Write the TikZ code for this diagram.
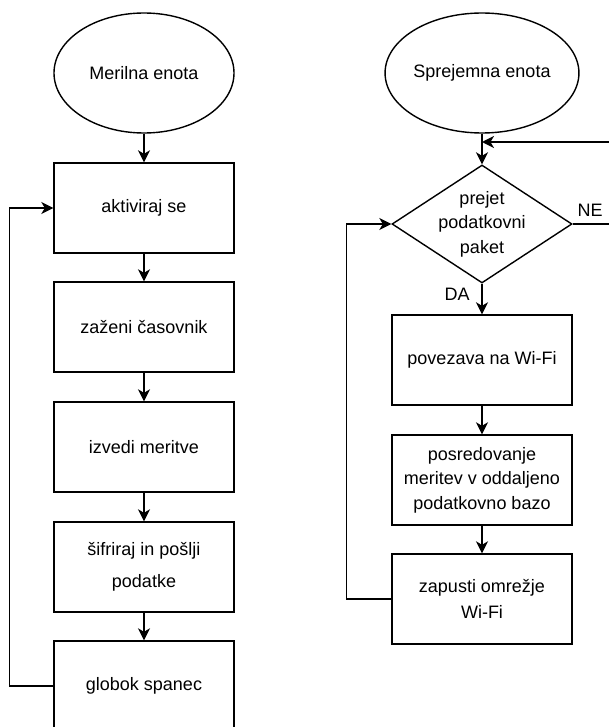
\documentclass[tikz,border=0pt]{standalone}
\usepackage{fontspec}
\setmainfont{Liberation Sans}
\usetikzlibrary{arrows.meta,shapes.geometric}
\begin{document}
\begin{tikzpicture}[x=1bp,y=-1bp,
  every node/.style={font=\fontsize{18bp}{24.5bp}\selectfont},
  line/.style={line width=1.4bp, draw=black},
  arr/.style={line, -{Stealth[length=12bp,width=12bp,inset=3.5bp]}},
  box/.style={line, draw, rectangle, minimum width=180bp, minimum height=90bp, inner sep=0pt, align=center},
  term/.style={line, draw, ellipse, minimum width=180bp, minimum height=120bp, inner sep=0pt},
  dec/.style={line, draw, diamond, minimum width=180bp, minimum height=118bp, inner sep=0pt},
  lbl/.style={inner sep=0pt}
]
\useasboundingbox (0,0) rectangle (609,727);
% left column
\node[term] (e1) at (144,73) {Merilna enota};
\node[box] (b1) at (144,208) {aktiviraj se};
\node[box] (b2) at (144,327) {zaženi časovnik};
\node[box] (b3) at (144,447) {izvedi meritve};
\node[box] (b4) at (144,567) {šifriraj in pošlji\\[8bp]podatke};
\node[box] (b5) at (144,686) {globok spanec};
\draw[arr] (e1) -- (b1);
\draw[arr] (b1) -- (b2);
\draw[arr] (b2) -- (b3);
\draw[arr] (b3) -- (b4);
\draw[arr] (b4) -- (b5);
\draw[arr] (b5.west) -- ++(-44,0) |- (b1.west);
% right column
\node[term] (e2) at (482,73) {Sprejemna enota};
\node[dec, label={[align=center, inner sep=0pt]center:prejet\\podatkovni\\paket}] (d) at (482,224) {};
\node[box] (r1) at (482,360) {povezava na Wi-Fi};
\node[box] (r2) at (482,480) {posredovanje\\meritev v oddaljeno\\podatkovno bazo};
\node[box] (r3) at (482,599) {zapusti omrežje\\[2bp]Wi-Fi};
\coordinate (j) at (482,142);
\coordinate (ne1) at (615,224);
\coordinate (ne2) at (615,142);
\draw[arr] (e2) -- (d);
\draw[arr] (d) -- (r1);
\draw[arr] (r1) -- (r2);
\draw[arr] (r2) -- (r3);
\draw[arr] (r3.west) -- ++(-45,0) |- (d.west);
\draw[arr] (d.east) -- (ne1) -- (ne2) -- (j);
\node[lbl] (ne) at (590,210) {NE};
\node[lbl] (da) at (457,294) {DA};
\end{tikzpicture}
\end{document}
